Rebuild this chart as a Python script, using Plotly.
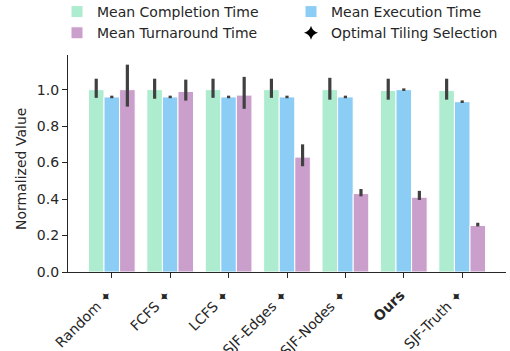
import plotly.graph_objects as go

categories = ["Random", "FCFS", "LCFS", "SJF-Edges", "SJF-Nodes", "Ours", "SJF-Truth"]
tick_labels = ["Random ✦ ", "FCFS ✦ ", "LCFS ✦ ", "SJF-Edges ✦ ", "SJF-Nodes ✦ ", "<b>Ours</b> ", "SJF-Truth ✦ "]
y_title = "Normalized Value"

completion = [1.0, 1.0, 1.0, 1.0, 1.0, 0.995, 0.995]
completion_hi = [1.06, 1.06, 1.06, 1.06, 1.065, 1.06, 1.06]
completion_lo = [0.955, 0.95, 0.955, 0.955, 0.945, 0.945, 0.945]

execution = [0.96, 0.96, 0.96, 0.96, 0.96, 1.0, 0.934]
execution_hi = [0.967, 0.967, 0.967, 0.967, 0.967, 1.007, 0.941]
execution_lo = [0.953, 0.953, 0.953, 0.953, 0.953, 0.993, 0.927]

turnaround = [1.0, 0.99, 0.97, 0.63, 0.43, 0.41, 0.255]
turnaround_hi = [1.137, 1.055, 1.07, 0.70, 0.455, 0.445, 0.27]
turnaround_lo = [0.907, 0.94, 0.895, 0.58, 0.415, 0.395, 0.25]

series = [
    ("Mean Completion Time", completion, completion_hi, completion_lo, "#aeecd0", "legend"),
    ("Mean Execution Time", execution, execution_hi, execution_lo, "#8ccdf5", "legend2"),
    ("Mean Turnaround Time", turnaround, turnaround_hi, turnaround_lo, "#cb9fcc", "legend"),
]

fig = go.Figure()
for name, vals, hi, lo, color, leg in series:
    fig.add_trace(go.Bar(
        x=categories, y=vals, name=name, legend=leg,
        marker=dict(color=color, line=dict(color="white", width=1)),
        error_y=dict(type="data", symmetric=False,
                     array=[h - v for h, v in zip(hi, vals)],
                     arrayminus=[v - l for l, v in zip(lo, vals)],
                     color="#404040", thickness=3.2, width=0),
    ))

fig.add_trace(go.Scatter(
    x=[None], y=[None], mode="markers", name="Optimal Tiling Selection", legend="legend2",
    marker=dict(symbol="star-diamond", color="black", size=10),
))

W, H = 510, 351
L, R, T, B = 68, 4, 55, 79
PW, PH = W - L - R, H - T - B
axis_color = "#262626"
leg_common = dict(orientation="v", xref="container", yref="paper",
                  yanchor="top", xanchor="left", y=(PH + T + 4) / PH,
                  font=dict(size=14, color=axis_color), tracegroupgap=0,
                  bgcolor="rgba(0,0,0,0)", traceorder="normal")
fig.update_layout(
    width=W, height=H,
    margin=dict(l=L, r=R, t=T, b=B, autoexpand=False),
    plot_bgcolor="white", paper_bgcolor="white",
    font=dict(family="DejaVu Sans", size=14, color=axis_color),
    barmode="group", bargap=0.2, bargroupgap=0,
    showlegend=True,
    legend=dict(x=57 / W, **leg_common),
    legend2=dict(x=291 / W, **leg_common),
    annotations=[dict(text=y_title, textangle=-90, xref="paper", yref="paper",
                      x=(21 - L) / PW, y=0.475, xanchor="center", yanchor="middle",
                      showarrow=False, font=dict(size=14, color=axis_color))],
)
fig.update_xaxes(
    range=[-0.75, 6.75], tickvals=categories, ticktext=tick_labels,
    tickangle=-45, showline=True, linecolor=axis_color, linewidth=1.25,
    ticks="outside", ticklen=5, tickwidth=1.25, tickcolor=axis_color,
    showgrid=False, zeroline=False, tickfont=dict(size=14),
)
fig.update_yaxes(
    range=[0, 1.19], tickvals=[0, 0.2, 0.4, 0.6, 0.8, 1.0],
    ticktext=["0.0", "0.2", "0.4", "0.6", "0.8", "1.0"],
    showline=True, linecolor=axis_color, linewidth=1.25,
    ticks="outside", ticklen=5, tickwidth=1.25, tickcolor=axis_color,
    showgrid=False, zeroline=False,
)

fig.write_html("out.html", config={"displayModeBar": False},
               post_script="document.body.style.margin='0';document.body.style.padding='0';")
